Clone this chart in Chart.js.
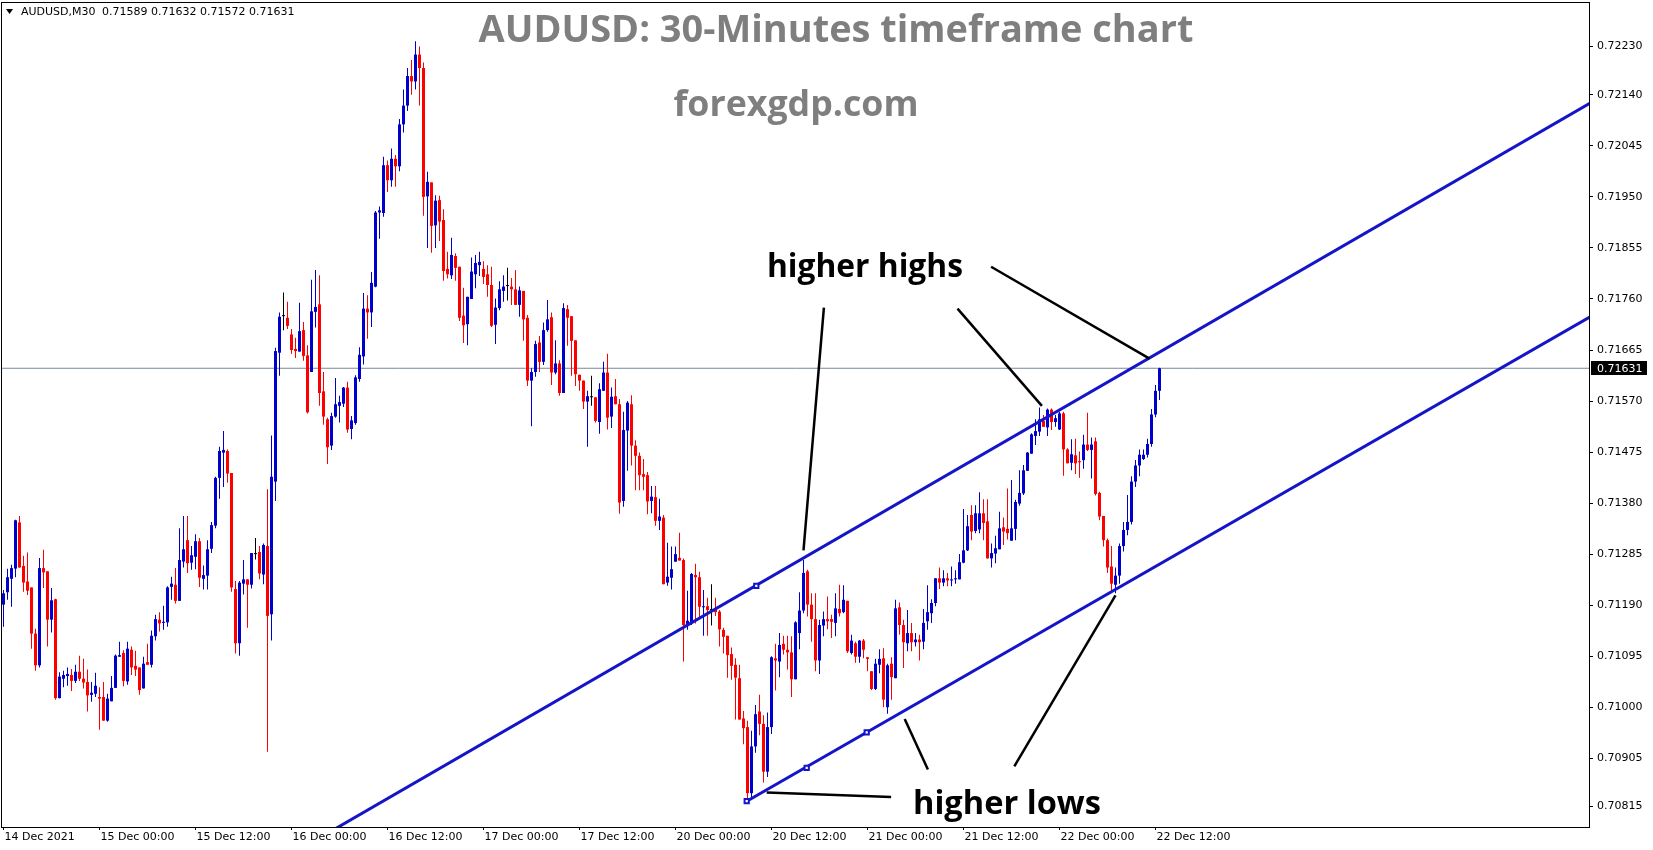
<!DOCTYPE html>
<html lang="en">
<head>
<meta charset="UTF-8">
<title>AUDUSD M30</title>
<script src="https://cdn.jsdelivr.net/npm/chart.js"></script>
<style>
  body { margin: 0; background: #fff; }
  #wrap { width: 1653px; height: 850px; }
</style>
</head>
<body>
<div id="wrap"><canvas id="chart" width="1653" height="850"></canvas></div>
<script>
// 30-minute bars, index 0 = 14 Dec 12:00
const openP = [
  0.71191,0.71214,0.71239,0.71258,0.71344,0.71263,0.71234,0.71223,0.71137,0.71078,
  0.71259,0.71253,0.71163,0.71201,0.71017,0.71053,0.71058,0.71060,0.71049,0.71066,
  0.71053,0.71047,0.71023,0.71025,0.71019,0.71019,0.70975,0.71011,0.71036,0.71094,
  0.71101,0.71048,0.71107,0.71077,0.71074,0.71035,0.71084,0.71079,0.71132,0.71163,
  0.71157,0.71158,0.71224,0.71228,0.71198,0.71271,0.71311,0.71269,0.71280,0.71309,
  0.71239,0.71245,0.71295,0.71338,0.71427,0.71474,0.71477,0.71436,0.71220,0.71119,
  0.71230,0.71238,0.71228,0.71285,0.71289,0.71247,0.71300,0.71173,0.71420,0.71660,
  0.71728,0.71725,0.71694,0.71667,0.71662,0.71702,0.71655,0.71624,0.71736,0.71750,
  0.71588,0.71536,0.71487,0.71541,0.71561,0.71565,0.71595,0.71518,0.71529,0.71611,
  0.71653,0.71742,0.71735,0.71783,0.71921,0.71920,0.72009,0.71981,0.72021,0.72007,
  0.72085,0.72120,0.72175,0.72165,0.72215,0.72190,0.71951,0.71977,0.71897,0.71944,
  0.71907,0.71816,0.71804,0.71840,0.71820,0.71729,0.71713,0.71760,0.71806,0.71823,
  0.71816,0.71806,0.71786,0.71712,0.71743,0.71775,0.71784,0.71783,0.71778,0.71749,
  0.71775,0.71725,0.71608,0.71624,0.71679,0.71643,0.71702,0.71726,0.71623,0.71640,
  0.71585,0.71741,0.71728,0.71683,0.71619,0.71608,0.71569,0.71577,0.71577,0.71531,
  0.71589,0.71623,0.71541,0.71579,0.71564,0.71384,0.71515,0.71564,0.71487,0.71468,
  0.71434,0.71432,0.71384,0.71391,0.71347,0.71353,0.71232,0.71241,0.71271,0.71278,
  0.71274,0.71153,0.71156,0.71246,0.71242,0.71186,0.71188,0.71181,0.71181,0.71178,
  0.71144,0.71133,0.71099,0.71079,0.71054,0.70979,0.70963,0.70840,0.70927,0.70992,
  0.70969,0.70880,0.70963,0.71091,0.71085,0.71118,0.71107,0.71102,0.71052,0.71138,
  0.71180,0.71253,0.71191,0.71164,0.71087,0.71152,0.71164,0.71164,0.71157,0.71183,
  0.71177,0.71198,0.71101,0.71119,0.71094,0.71124,0.71093,0.71067,0.71034,0.71079,
  0.71091,0.71000,0.71081,0.71054,0.71186,0.71153,0.71119,0.71138,0.71121,0.71126,
  0.71122,0.71160,0.71175,0.71194,0.71240,0.71232,0.71240,0.71236,0.71238,0.71238,
  0.71269,0.71292,0.71358,0.71328,0.71331,0.71361,0.71346,0.71277,0.71286,0.71294,
  0.71335,0.71332,0.71310,0.71332,0.71379,0.71398,0.71440,0.71472,0.71505,0.71513,
  0.71533,0.71521,0.71554,0.71531,0.71517,0.71547,0.71480,0.71455,0.71469,0.71458,
  0.71460,0.71489,0.71479,0.71495,0.71399,0.71356,0.71311,0.71262,0.71228,0.71245,
  0.71300,0.71330,0.71345,0.71420,0.71450,0.71462,0.71470,0.71490,0.71545,0.71589
];
const highP = [
  0.71218,0.71258,0.71265,0.71349,0.71356,0.71282,0.71288,0.71223,0.71146,0.71278,
  0.71293,0.71253,0.71222,0.71202,0.71065,0.71068,0.71074,0.71071,0.71079,0.71096,
  0.71090,0.71070,0.71047,0.71064,0.71037,0.71047,0.71025,0.71058,0.71098,0.71122,
  0.71106,0.71122,0.71113,0.71105,0.71074,0.71094,0.71118,0.71143,0.71172,0.71177,
  0.71189,0.71225,0.71243,0.71259,0.71333,0.71356,0.71356,0.71300,0.71322,0.71315,
  0.71264,0.71311,0.71345,0.71429,0.71485,0.71514,0.71480,0.71436,0.71235,0.71235,
  0.71274,0.71238,0.71287,0.71315,0.71300,0.71305,0.71406,0.71506,0.71669,0.71735,
  0.71772,0.71755,0.71704,0.71688,0.71753,0.71717,0.71674,0.71796,0.71814,0.71804,
  0.71624,0.71539,0.71548,0.71613,0.71580,0.71596,0.71606,0.71542,0.71618,0.71670,
  0.71771,0.71767,0.71810,0.71924,0.71932,0.72025,0.72018,0.72040,0.72028,0.72095,
  0.72150,0.72190,0.72205,0.72240,0.72230,0.72200,0.71997,0.71977,0.71953,0.71952,
  0.71927,0.71848,0.71874,0.71845,0.71820,0.71781,0.71764,0.71837,0.71842,0.71848,
  0.71830,0.71823,0.71820,0.71761,0.71793,0.71804,0.71818,0.71799,0.71814,0.71783,
  0.71775,0.71730,0.71631,0.71682,0.71691,0.71716,0.71758,0.71735,0.71683,0.71646,
  0.71752,0.71749,0.71728,0.71683,0.71619,0.71608,0.71589,0.71617,0.71577,0.71603,
  0.71643,0.71658,0.71595,0.71611,0.71574,0.71550,0.71570,0.71581,0.71497,0.71474,
  0.71462,0.71438,0.71412,0.71412,0.71388,0.71358,0.71306,0.71299,0.71299,0.71325,
  0.71277,0.71217,0.71250,0.71267,0.71252,0.71218,0.71204,0.71229,0.71204,0.71181,
  0.71148,0.71133,0.71111,0.71091,0.71079,0.70993,0.70975,0.70956,0.71004,0.71023,
  0.70985,0.70990,0.71095,0.71118,0.71138,0.71133,0.71133,0.71132,0.71160,0.71214,
  0.71274,0.71256,0.71212,0.71212,0.71163,0.71178,0.71206,0.71172,0.71212,0.71228,
  0.71227,0.71198,0.71135,0.71122,0.71125,0.71127,0.71093,0.71067,0.71090,0.71108,
  0.71110,0.71081,0.71093,0.71200,0.71195,0.71163,0.71181,0.71157,0.71138,0.71135,
  0.71183,0.71227,0.71201,0.71240,0.71260,0.71255,0.71250,0.71262,0.71255,0.71285,
  0.71369,0.71358,0.71376,0.71376,0.71400,0.71387,0.71387,0.71305,0.71319,0.71364,
  0.71353,0.71407,0.71423,0.71386,0.71441,0.71451,0.71475,0.71510,0.71536,0.71558,
  0.71544,0.71556,0.71556,0.71544,0.71550,0.71550,0.71482,0.71499,0.71500,0.71476,
  0.71507,0.71548,0.71502,0.71502,0.71401,0.71356,0.71314,0.71300,0.71260,0.71305,
  0.71345,0.71395,0.71430,0.71460,0.71480,0.71480,0.71500,0.71555,0.71600,0.71632
];
const lowP = [
  0.71150,0.71200,0.71187,0.71242,0.71260,0.71215,0.71209,0.71109,0.71068,0.71074,
  0.71222,0.71113,0.71139,0.71014,0.71016,0.71037,0.71040,0.71030,0.71045,0.71049,
  0.71035,0.70992,0.71010,0.71019,0.70958,0.70975,0.70973,0.71011,0.71036,0.71094,
  0.71039,0.71042,0.71060,0.71058,0.71023,0.71035,0.71079,0.71074,0.71124,0.71141,
  0.71144,0.71150,0.71200,0.71193,0.71198,0.71260,0.71250,0.71256,0.71257,0.71224,
  0.71219,0.71219,0.71287,0.71333,0.71388,0.71410,0.71418,0.71215,0.71100,0.71096,
  0.71210,0.71148,0.71221,0.71275,0.71238,0.71229,0.70917,0.71124,0.71384,0.71617,
  0.71702,0.71704,0.71658,0.71650,0.71662,0.71645,0.71547,0.71624,0.71707,0.71561,
  0.71526,0.71453,0.71479,0.71539,0.71530,0.71559,0.71511,0.71499,0.71526,0.71606,
  0.71638,0.71686,0.71708,0.71782,0.71872,0.71913,0.71959,0.71969,0.71969,0.71998,
  0.72070,0.72110,0.72140,0.72150,0.72120,0.71915,0.71855,0.71846,0.71855,0.71868,
  0.71794,0.71798,0.71797,0.71794,0.71719,0.71678,0.71674,0.71760,0.71780,0.71803,
  0.71788,0.71764,0.71708,0.71676,0.71739,0.71755,0.71757,0.71749,0.71749,0.71727,
  0.71682,0.71598,0.71523,0.71615,0.71624,0.71637,0.71699,0.71600,0.71620,0.71580,
  0.71585,0.71673,0.71617,0.71598,0.71589,0.71555,0.71485,0.71561,0.71530,0.71509,
  0.71589,0.71517,0.71520,0.71564,0.71360,0.71373,0.71440,0.71450,0.71404,0.71404,
  0.71404,0.71359,0.71361,0.71338,0.71330,0.71229,0.71226,0.71219,0.71271,0.71273,
  0.71085,0.71144,0.71153,0.71156,0.71164,0.71133,0.71133,0.71152,0.71170,0.71113,
  0.71100,0.71055,0.71051,0.70977,0.70977,0.70931,0.70822,0.70830,0.70915,0.70948,
  0.70860,0.70870,0.70950,0.71031,0.71056,0.71098,0.71070,0.71019,0.71052,0.71108,
  0.71175,0.71169,0.71122,0.71067,0.71062,0.71132,0.71145,0.71129,0.71132,0.71169,
  0.71175,0.71101,0.71098,0.71083,0.71083,0.71091,0.71067,0.71032,0.71032,0.71063,
  0.71000,0.70988,0.71014,0.71054,0.71135,0.71073,0.71104,0.71104,0.71113,0.71087,
  0.71108,0.71144,0.71157,0.71188,0.71220,0.71225,0.71225,0.71225,0.71230,0.71238,
  0.71268,0.71291,0.71311,0.71324,0.71324,0.71311,0.71277,0.71260,0.71268,0.71294,
  0.71302,0.71312,0.71310,0.71311,0.71375,0.71395,0.71440,0.71472,0.71488,0.71505,
  0.71522,0.71505,0.71516,0.71522,0.71516,0.71431,0.71454,0.71441,0.71434,0.71427,
  0.71444,0.71477,0.71426,0.71394,0.71348,0.71299,0.71250,0.71214,0.71212,0.71230,
  0.71290,0.71320,0.71340,0.71410,0.71430,0.71460,0.71465,0.71485,0.71540,0.71572
];
const closeP = [
  0.71212,0.71242,0.71259,0.71348,0.71260,0.71232,0.71217,0.71137,0.71078,0.71259,
  0.71251,0.71163,0.71199,0.71017,0.71057,0.71060,0.71062,0.71049,0.71066,0.71053,
  0.71046,0.71022,0.71027,0.71040,0.71016,0.70975,0.71016,0.71036,0.71096,0.71097,
  0.71049,0.71109,0.71074,0.71070,0.71032,0.71081,0.71079,0.71133,0.71164,0.71156,
  0.71159,0.71223,0.71230,0.71198,0.71274,0.71294,0.71268,0.71283,0.71309,0.71241,
  0.71246,0.71294,0.71339,0.71427,0.71477,0.71479,0.71435,0.71223,0.71119,0.71232,
  0.71238,0.71228,0.71287,0.71285,0.71249,0.71302,0.71170,0.71429,0.71663,0.71727,
  0.71728,0.71710,0.71665,0.71663,0.71700,0.71654,0.71549,0.71737,0.71745,0.71585,
  0.71541,0.71484,0.71542,0.71564,0.71568,0.71595,0.71517,0.71534,0.71614,0.71656,
  0.71742,0.71735,0.71790,0.71921,0.71925,0.72009,0.71981,0.72021,0.72007,0.72085,
  0.72120,0.72175,0.72165,0.72215,0.72190,0.71950,0.71978,0.71896,0.71943,0.71904,
  0.71812,0.71806,0.71842,0.71818,0.71725,0.71711,0.71764,0.71811,0.71827,0.71829,
  0.71801,0.71786,0.71710,0.71744,0.71778,0.71783,0.71784,0.71778,0.71749,0.71776,
  0.71722,0.71608,0.71624,0.71676,0.71643,0.71702,0.71722,0.71623,0.71640,0.71585,
  0.71743,0.71725,0.71682,0.71620,0.71608,0.71569,0.71579,0.71577,0.71533,0.71592,
  0.71623,0.71539,0.71578,0.71564,0.71381,0.71516,0.71567,0.71487,0.71468,0.71432,
  0.71429,0.71383,0.71392,0.71347,0.71355,0.71229,0.71243,0.71257,0.71285,0.71273,
  0.71153,0.71161,0.71248,0.71242,0.71187,0.71188,0.71181,0.71181,0.71177,0.71145,
  0.71131,0.71097,0.71077,0.71055,0.70977,0.70961,0.70840,0.70927,0.70987,0.70969,
  0.70880,0.70963,0.71093,0.71087,0.71116,0.71107,0.71102,0.71052,0.71158,0.71180,
  0.71250,0.71191,0.71164,0.71087,0.71153,0.71164,0.71160,0.71159,0.71184,0.71175,
  0.71200,0.71104,0.71124,0.71094,0.71124,0.71107,0.71090,0.71034,0.71081,0.71090,
  0.71014,0.71078,0.71056,0.71184,0.71153,0.71121,0.71138,0.71121,0.71126,0.71121,
  0.71157,0.71177,0.71194,0.71240,0.71232,0.71240,0.71236,0.71238,0.71240,0.71270,
  0.71292,0.71337,0.71327,0.71361,0.71361,0.71343,0.71277,0.71287,0.71296,0.71333,
  0.71327,0.71324,0.71333,0.71382,0.71399,0.71441,0.71474,0.71508,0.71514,0.71536,
  0.71522,0.71554,0.71531,0.71538,0.71547,0.71480,0.71454,0.71471,0.71454,0.71456,
  0.71489,0.71479,0.71489,0.71397,0.71355,0.71311,0.71260,0.71230,0.71245,0.71300,
  0.71330,0.71345,0.71420,0.71450,0.71470,0.71470,0.71490,0.71545,0.71589,0.71631
];

const timeTicks = [0, 24, 48, 72, 96, 120, 144, 168, 192, 216, 240, 264, 288];
const timeLabels = ['14 Dec 2021', '15 Dec 00:00', '15 Dec 12:00', '16 Dec 00:00', '16 Dec 12:00',
  '17 Dec 00:00', '17 Dec 12:00', '20 Dec 00:00', '20 Dec 12:00', '21 Dec 00:00',
  '21 Dec 12:00', '22 Dec 00:00', '22 Dec 12:00'];
const priceTicks = [0.72230, 0.72140, 0.72045, 0.71950, 0.71855, 0.71760, 0.71665, 0.71570,
  0.71475, 0.71380, 0.71285, 0.71190, 0.71095, 0.71000, 0.70905, 0.70815];

// channel lines and their anchor squares (bar index, price)
const upperLine = [{x: 80, y: 0.70761}, {x: 400, y: 0.72139}];
const lowerLine = [{x: 185.8, y: 0.70825}, {x: 400, y: 0.71741}];
const anchorPts = [{x: 185.8, y: 0.70825}, {x: 200.8, y: 0.70887}, {x: 215.8, y: 0.70953}, {x: 188.2, y: 0.71226}];

// black pointer lines from the labels
const pointers = [
  [{x: 205.1, y: 0.71744}, {x: 200.0, y: 0.71292}],
  [{x: 238.5, y: 0.71742}, {x: 259.6, y: 0.71561}],
  [{x: 246.9, y: 0.71820}, {x: 286.5, y: 0.71649}],
  [{x: 190.8, y: 0.70841}, {x: 221.9, y: 0.70833}],
  [{x: 225.3, y: 0.70978}, {x: 231.1, y: 0.70884}],
  [{x: 278.0, y: 0.71208}, {x: 252.7, y: 0.70890}]
];

const BULL = '#0000cd';
const BEAR = '#ff0000';
const CHANNEL = '#1414c8';
const AXIS_FONT = '11px "DejaVu Sans"';
const last = closeP.length - 1;

function candleColor(i) {
  if (closeP[i] > openP[i]) return BULL;
  if (closeP[i] < openP[i]) return BEAR;
  return '#000000';
}

const bodies = openP.map((o, i) => ({x: i, y: [o, closeP[i]]}));
const wicks = lowP.map((l, i) => ({x: i, y: [l, highP[i]]}));
const priceLine = [{x: -5, y: closeP[last]}, {x: 405, y: closeP[last]}];

function fitFont(c, text, weight, family, width) {
  c.font = weight + ' 100px ' + family;
  return 100 * width / c.measureText(text).width;
}

const overlay = {
  id: 'overlay',
  afterDraw(chart) {
    const c = chart.ctx;
    const a = chart.chartArea;
    const xs = chart.scales.x, ys = chart.scales.y;
    c.save();
    // frame
    c.strokeStyle = '#000';
    c.lineWidth = 1;
    c.strokeRect(a.left - 0.5, a.top - 0.5, a.right - a.left + 1, a.bottom - a.top + 1);

    // axis labels
    c.fillStyle = '#000';
    c.font = AXIS_FONT;
    c.textAlign = 'left';
    c.textBaseline = 'middle';
    priceTicks.forEach(v => c.fillText(v.toFixed(5), a.right + 8, ys.getPixelForValue(v)));
    c.textBaseline = 'top';
    timeTicks.forEach((v, k) => c.fillText(timeLabels[k], xs.getPixelForValue(v) + 1, a.bottom + 5));

    // price tag
    const yp = ys.getPixelForValue(closeP[last]);
    c.fillStyle = '#000';
    c.fillRect(a.right + 2, Math.round(yp) - 7, 56, 14);
    c.fillStyle = '#fff';
    c.textBaseline = 'middle';
    c.fillText(closeP[last].toFixed(5), a.right + 8, yp + 0.5);

    // symbol header
    c.fillStyle = '#000';
    c.beginPath();
    c.moveTo(6, 9); c.lineTo(13, 9); c.lineTo(9.5, 14); c.closePath();
    c.fill();
    c.fillText('AUDUSD,M30', 21, 12);
    c.fillText([openP[last], highP[last], lowP[last], closeP[last]].map(v => v.toFixed(5)).join(' '), 102, 12);

    // titles
    c.textBaseline = 'alphabetic';
    c.fillStyle = '#7f7f7f';
    c.textAlign = 'center';
    let t = 'AUDUSD: 30-Minutes timeframe chart';
    c.font = 'bold ' + fitFont(c, t, 'bold', '"Open Sans"', 715) + 'px "Open Sans"';
    c.fillText(t, 836, 42);
    t = 'forexgdp.com';
    c.font = 'bold ' + fitFont(c, t, 'bold', '"Open Sans"', 245) + 'px "Open Sans"';
    c.fillText(t, 796, 116);

    // annotations
    c.fillStyle = '#000';
    c.textAlign = 'left';
    t = 'higher highs';
    c.font = 'bold ' + fitFont(c, t, 'bold', '"Open Sans"', 196) + 'px "Open Sans"';
    c.fillText(t, 767, 277);
    t = 'higher lows';
    c.font = 'bold ' + fitFont(c, t, 'bold', '"Open Sans"', 188) + 'px "Open Sans"';
    c.fillText(t, 913, 814);
    c.restore();
  }
};

const lineSet = (data, color, width, order) => ({
  type: 'line', data, borderColor: color, borderWidth: width,
  pointRadius: 0, fill: false, tension: 0, order
});

const datasets = [
  lineSet(priceLine, '#778899', 1, 10),
  {
    type: 'bar', data: wicks, barThickness: 1, grouped: false, inflateAmount: 0,
    backgroundColor: ctx => candleColor(ctx.dataIndex), order: 8
  },
  {
    type: 'bar', data: bodies, barThickness: 3, minBarLength: 1, grouped: false, inflateAmount: 0,
    backgroundColor: ctx => candleColor(ctx.dataIndex), order: 7
  },
  lineSet(upperLine, CHANNEL, 3, 5),
  lineSet(lowerLine, CHANNEL, 3, 5),
  {
    type: 'line', data: anchorPts, showLine: false, pointStyle: 'rect', pointRadius: 3,
    pointBackgroundColor: '#fff', pointBorderColor: CHANNEL, pointBorderWidth: 2, order: 4
  }
];
pointers.forEach(p => datasets.push(lineSet(p, '#000', 2.5, 1)));

new Chart(document.getElementById('chart'), {
  type: 'bar',
  data: {datasets},
  options: {
    responsive: false,
    animation: false,
    devicePixelRatio: 1,
    layout: {autoPadding: false, padding: {left: 2, top: 3, right: 0, bottom: 0}},
    plugins: {legend: {display: false}, tooltip: {enabled: false}},
    scales: {
      x: {
        type: 'linear', position: 'bottom', min: -0.375, max: 396.375,
        offset: false, bounds: 'data', grace: 0,
        afterFit: s => { s.height = 23; },
        afterBuildTicks: s => { s.ticks = timeTicks.map(v => ({value: v})); },
        ticks: {display: false},
        grid: {drawOnChartArea: false, drawTicks: true, tickLength: 3, color: '#000', offset: false},
        border: {display: true, color: '#000'}
      },
      y: {
        type: 'linear', position: 'right', min: 0.70777, max: 0.72311,
        offset: false, bounds: 'data', grace: 0, beginAtZero: false,
        afterFit: s => { s.width = 64; },
        afterBuildTicks: s => { s.ticks = priceTicks.map(v => ({value: v})); },
        ticks: {display: false},
        grid: {drawOnChartArea: false, drawTicks: true, tickLength: 4, color: '#000', offset: false},
        border: {display: true, color: '#000'}
      }
    }
  },
  plugins: [overlay]
});
</script>
</body>
</html>
